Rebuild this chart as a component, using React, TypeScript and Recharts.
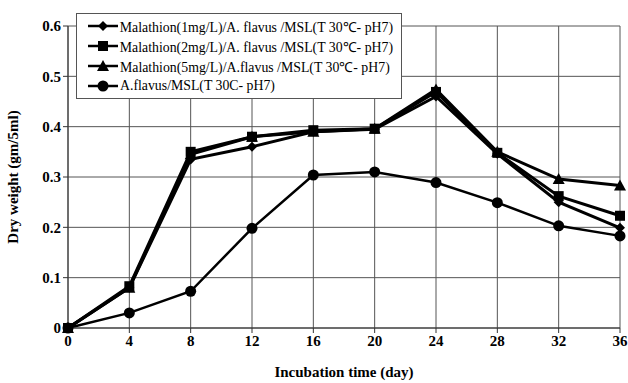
import { LineChart, Line, XAxis, YAxis, CartesianGrid } from 'recharts';

const days = [0, 4, 8, 12, 16, 20, 24, 28, 32, 36];
const mal1 = [0, 0.08, 0.335, 0.36, 0.39, 0.395, 0.46, 0.346, 0.25, 0.199];
const mal2 = [0, 0.083, 0.35, 0.38, 0.393, 0.396, 0.469, 0.348, 0.262, 0.223];
const mal5 = [0, 0.08, 0.345, 0.38, 0.39, 0.396, 0.474, 0.35, 0.296, 0.283];
const control = [0, 0.03, 0.073, 0.198, 0.304, 0.31, 0.289, 0.249, 0.203, 0.183];

const xTicks = [0, 4, 8, 12, 16, 20, 24, 28, 32, 36];
const yTicks = [0, 0.1, 0.2, 0.3, 0.4, 0.5, 0.6];

const seriesNames = [
    'Malathion(1mg/L)/A. flavus /MSL(T 30\u2103- pH7)',
    'Malathion(2mg/L)/A. flavus /MSL(T 30\u2103- pH7)',
    'Malathion(5mg/L)/A.flavus /MSL(T 30\u2103- pH7)',
    'A.flavus/MSL(T 30C- pH7)',
];

const data = days.map((d, i) => ({
    day: d,
    m1: mal1[i],
    m2: mal2[i],
    m5: mal5[i],
    ctrl: control[i],
}));

const FONT = '"Liberation Serif", "Times New Roman", serif';

// marker shapes
function Marker({ kind, cx, cy }: { kind: string; cx: number; cy: number }) {
    if (kind === 'diamond') {
        return <polygon points={`${cx},${cy - 5} ${cx + 5},${cy} ${cx},${cy + 5} ${cx - 5},${cy}`} fill="#000" />;
    }
    if (kind === 'square') {
        return <rect x={cx - 5} y={cy - 5} width={10} height={10} fill="#000" />;
    }
    if (kind === 'triangle') {
        return <polygon points={`${cx},${cy - 6} ${cx + 6},${cy + 5} ${cx - 6},${cy + 5}`} fill="#000" />;
    }
    return <circle cx={cx} cy={cy} r={5.5} fill="#000" />;
}

const makeDot = (kind: string) => (props: any) => {
    const { cx, cy, index } = props;
    if (cx == null || cy == null) return <g key={index} />;
    return <Marker key={index} kind={kind} cx={cx} cy={cy} />;
};

const kinds = ['diamond', 'square', 'triangle', 'circle'];

function ChartLegend() {
    return (
        <div
            style={{
                position: 'absolute',
                left: 76,
                top: 13,
                width: 306,
                border: '1px solid #555',
                background: '#fff',
                padding: '2px 8px 2px 10px',
                fontFamily: FONT,
                fontSize: 13.8,
                color: '#000',
            }}
        >
            {seriesNames.map((name, i) => (
                <div key={name} style={{ display: 'flex', alignItems: 'center', height: 20 }}>
                    <svg width={32} height={14} style={{ marginRight: 1 }}>
                        <line x1={1} y1={7} x2={31} y2={7} stroke="#000" strokeWidth={2.5} />
                        <Marker kind={kinds[i]} cx={16} cy={7} />
                    </svg>
                    <span style={{ whiteSpace: 'nowrap' }}>{name}</span>
                </div>
            ))}
        </div>
    );
}

export default function App() {
    return (
        <div style={{ position: 'absolute', left: 0, top: 0, width: 628, height: 383, background: '#fff' }}>
            <LineChart
                width={628}
                height={383}
                data={data}
                margin={{ top: 26, right: 8, bottom: 0, left: 0 }}
            >
                <CartesianGrid stroke="#555" strokeWidth={1} />
                <XAxis
                    dataKey="day"
                    type="number"
                    domain={[0, 36]}
                    ticks={xTicks}
                    height={55}
                    axisLine={{ stroke: '#333' }}
                    tickLine={{ stroke: '#333' }}
                    tickSize={5}
                    tick={{ fill: '#000', fontFamily: FONT, fontSize: 15, fontWeight: 'bold' }}
                    label={{
                        value: 'Incubation time (day)',
                        position: 'insideBottom',
                        offset: 6,
                        fill: '#000',
                        fontFamily: FONT,
                        fontSize: 15,
                        fontWeight: 'bold',
                    }}
                />
                <YAxis
                    type="number"
                    domain={[0, 0.6]}
                    ticks={yTicks}
                    width={68}
                    axisLine={{ stroke: '#333' }}
                    tickLine={{ stroke: '#333' }}
                    tickSize={5}
                    tickFormatter={(v: number) => (v === 0 ? '0' : v.toFixed(1))}
                    tick={{ fill: '#000', fontFamily: FONT, fontSize: 15, fontWeight: 'bold' }}
                    label={{
                        value: 'Dry weight (gm/5ml)',
                        angle: -90,
                        position: 'insideLeft',
                        offset: 13,
                        style: { textAnchor: 'middle' },
                        fill: '#000',
                        fontFamily: FONT,
                        fontSize: 15,
                        fontWeight: 'bold',
                    }}
                />
                <Line dataKey="ctrl" stroke="#000" strokeWidth={2.5} dot={makeDot('circle')} isAnimationActive={false} />
                <Line dataKey="m1" stroke="#000" strokeWidth={3} dot={makeDot('diamond')} isAnimationActive={false} />
                <Line dataKey="m5" stroke="#000" strokeWidth={3} dot={makeDot('triangle')} isAnimationActive={false} />
                <Line dataKey="m2" stroke="#000" strokeWidth={3} dot={makeDot('square')} isAnimationActive={false} />
            </LineChart>
            <ChartLegend />
        </div>
    );
}
